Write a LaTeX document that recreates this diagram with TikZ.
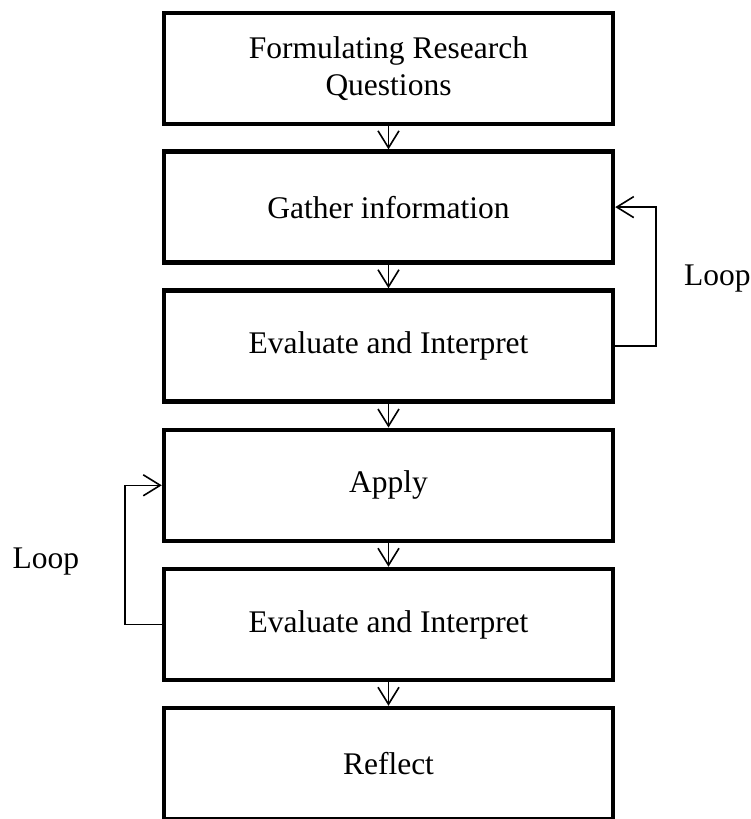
\documentclass[tikz,border=0pt]{standalone}
\usepackage{fontspec}
\setmainfont{Liberation Serif}
\usetikzlibrary{arrows.meta}
\begin{document}
\begin{tikzpicture}[x=1pt,y=-1pt,
  stepbox/.style={draw=black, line width=4.5pt, minimum width=449pt, minimum height=111pt,
    inner sep=0pt, align=center, font=\fontsize{31.5}{37}\selectfont},
  flow/.style={line width=1.6pt, -{Straight Barb[length=17pt,width=21pt,line width=1.6pt]}},
  looplabel/.style={font=\fontsize{31.5}{37}\selectfont, inner sep=0pt, anchor=base west}]
\useasboundingbox (0,0) rectangle (750,819);
\node[stepbox] (s1) at (388.5,68.3) {Formulating Research\\Questions};
\node[stepbox] (s2) at (388.5,207.1) {Gather information};
\node[stepbox] (s3) at (388.5,346) {Evaluate and Interpret};
\node[stepbox] (s4) at (388.5,485.3) {Apply};
\node[stepbox] (s5) at (388.5,624.5) {Evaluate and Interpret};
\node[stepbox] (s6) at (388.5,763.5) {Reflect};
% straight flow between consecutive steps
\foreach \a/\b in {s1/s2,s2/s3,s3/s4,s4/s5,s5/s6}
  \draw[flow] (\a.south) -- (\b.north);
% feedback loops
\coordinate (rl) at (656,0);
\coordinate (ll) at (125,0);
\draw[flow] (s3.east) -- (rl |- s3.east) -- (rl |- s2.east) -- (s2.east);
\draw[flow] (s5.west) -- (ll |- s5.west) -- (ll |- s4.west) -- (s4.west);
\node[looplabel] (lr) at (684,285) {Loop};
\node[looplabel] (lf) at (12.5,568) {Loop};
\end{tikzpicture}
\end{document}
